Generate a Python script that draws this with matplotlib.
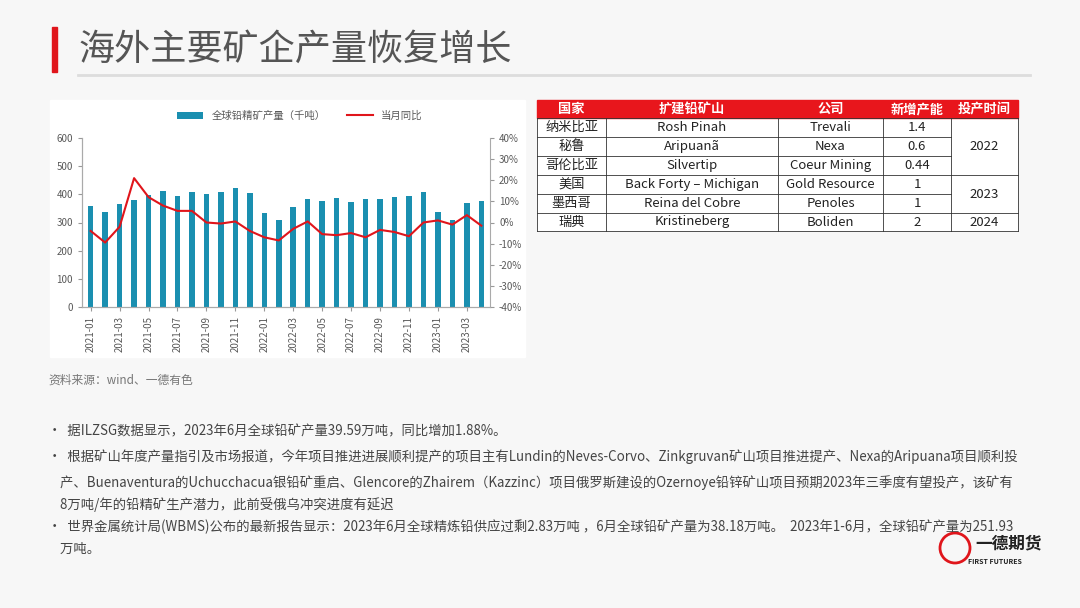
import matplotlib.pyplot as plt
from matplotlib.patches import Rectangle
import numpy as np

plt.rcParams['font.family'] = ['Noto Sans CJK SC', 'DejaVu Sans']

months = ['2021-01', '2021-02', '2021-03', '2021-04', '2021-05', '2021-06', '2021-07', '2021-08',
          '2021-09', '2021-10', '2021-11', '2021-12', '2022-01', '2022-02', '2022-03', '2022-04',
          '2022-05', '2022-06', '2022-07', '2022-08', '2022-09', '2022-10', '2022-11', '2022-12',
          '2023-01', '2023-02', '2023-03', '2023-04']
output = [358, 337, 364, 379, 397, 412, 394, 409, 400, 409, 422, 404,
          333, 310, 355, 382, 376, 388, 373, 382, 385, 391, 394, 407,
          337, 308, 370, 376]
yoy = [-4, -9.5, -2, 21, 12, 8, 5.5, 5.5, 0, -0.5, 0.5, -4,
       -7, -8.5, -3, 0.5, -5.5, -6, -5, -7, -3.5, -4.5, -6.5, 0,
       1, -1, 3.5, -1.5]

tbl_header = ['国家', '扩建铅矿山', '公司', '新增产能', '投产时间']
countries = ['纳米比亚', '秘鲁', '哥伦比亚', '美国', '墨西哥', '瑞典']
mines = ['Rosh Pinah', 'Aripuanã', 'Silvertip', 'Back Forty – Michigan', 'Reina del Cobre', 'Kristineberg']
companies = ['Trevali', 'Nexa', 'Coeur Mining', 'Gold Resource', 'Penoles', 'Boliden']
capacity = ['1.4', '0.6', '0.44', '1', '1', '2']
start_year = [('2022', 0, 3), ('2023', 3, 5), ('2024', 5, 6)]

W, H = 1080, 608
fig = plt.figure(figsize=(10.8, 6.08), dpi=100, facecolor='#f7f7f7')
bg = fig.add_axes([0, 0, 1, 1])
bg.set_xlim(0, W)
bg.set_ylim(H, 0)
bg.axis('off')

# title
bg.add_patch(Rectangle((52, 27), 5, 45, color='#e0151b'))
bg.text(78, 50, '海外主要矿企产量恢复增长', fontsize=26, color='#555555', va='center')
bg.plot([78, 1030], [75, 75], color='#dddddd', lw=2)

# chart panel
bg.add_patch(Rectangle((50, 100), 475, 257, color='white'))
bg.text(48, 380, '资料来源：wind、一德有色', fontsize=8.5, color='#777777', va='center')


def px(x0, y0, x1, y1):
    return [x0 / W, 1 - y1 / H, (x1 - x0) / W, (y1 - y0) / H]


ax = fig.add_axes(px(82, 138, 490, 307))
x = np.arange(len(months))
bars = ax.bar(x, output, width=0.38, color='#1a8fb0', label='全球铅精矿产量（千吨）')
ax.set_ylim(0, 600)
ax.set_xlim(-0.6, len(months) - 0.4)
ax.set_yticks(range(0, 601, 100))
ax.set_xticks(x[::2])
ax.set_xticklabels(months[::2], rotation=90, fontsize=7, color='#595959')
ax.tick_params(axis='y', labelsize=7, length=3)
ax.tick_params(axis='x', length=3, colors='#999999', labelcolor='#595959')
ax2 = ax.twinx()
line, = ax2.plot(x, yoy, color='#e0151b', lw=1.5, label='当月同比')
ax2.set_ylim(-40, 40)
ax2.set_yticks(range(-40, 41, 10))
ax2.set_yticklabels([f'{v}%' for v in range(-40, 41, 10)])
ax2.tick_params(axis='y', labelsize=7, colors='#999999', labelcolor='#595959', length=3)
for a in (ax, ax2):
    a.spines['top'].set_visible(False)
    for s in ('left', 'right', 'bottom'):
        a.spines[s].set_color('#aaaaaa')
ax.spines['right'].set_visible(False)
ax.tick_params(axis='y', colors='#999999', labelcolor='#595959')
fig.legend([bars, line], ['全球铅精矿产量（千吨）', '当月同比'], loc='center',
           bbox_to_anchor=(300 / W, 1 - 116 / H), ncol=2, frameon=False, fontsize=7.5,
           labelcolor='#595959', handlelength=2.5, columnspacing=2)

# table
cols = [537, 606, 778, 883, 951, 1018]
rows = [100, 118, 137, 156, 175, 194, 213, 231]
bg.add_patch(Rectangle((537, 100), 481, 131, facecolor='white', edgecolor='none'))
bg.add_patch(Rectangle((537, 100), 481, 18, color='#e8161c'))
for j, h in enumerate(tbl_header):
    bg.text((cols[j] + cols[j + 1]) / 2, 109, h, ha='center', va='center', color='white',
            fontsize=9.5, fontweight='bold')
for i in range(6):
    yc = (rows[i + 1] + rows[i + 2]) / 2
    for j, v in enumerate([countries[i], mines[i], companies[i], capacity[i]]):
        bg.text((cols[j] + cols[j + 1]) / 2, yc, v, ha='center', va='center', fontsize=9.5, color='#222222')
for yr, r0, r1 in start_year:
    yc = (rows[r0 + 1] + rows[r1 + 1]) / 2
    bg.text((cols[4] + cols[5]) / 2, yc, yr, ha='center', va='center', fontsize=9.5, color='#222222')
for c in cols:
    bg.plot([c, c], [118, 231], color='#333333', lw=0.6)
for i, r in enumerate(rows[1:]):
    bg.plot([537, 951], [r, r], color='#333333', lw=0.6)
for r in [118, 175, 213, 231]:
    bg.plot([951, 1018], [r, r], color='#333333', lw=0.6)

# bullet text
bullets = [
    (431, '•  据ILZSG数据显示，2023年6月全球铅矿产量39.59万吨，同比增加1.88%。'),
    (457, '•  根据矿山年度产量指引及市场报道，今年项目推进进展顺利提产的项目主有Lundin的Neves-Corvo、Zinkgruvan矿山项目推进提产、Nexa的Aripuana项目顺利投'),
    (483, '    产、Buenaventura的Uchucchacua银铅矿重启、Glencore的Zhairem（Kazzinc）项目俄罗斯建设的Ozernoye铅锌矿山项目预期2023年三季度有望投产，该矿有'),
    (505, '    8万吨/年的铅精矿生产潜力，此前受俄乌冲突进度有延迟'),
    (527, '•  世界金属统计局(WBMS)公布的最新报告显示：2023年6月全球精炼铅供应过剩2.83万吨 ，6月全球铅矿产量为38.18万吨。  2023年1-6月，全球铅矿产量为251.93'),
    (549, '    万吨。'),
]
for y, t in bullets:
    bg.text(48, y, t, fontsize=9.6, color='#444444', va='center')

# logo
bg.add_patch(plt.Circle((955, 548), 15, facecolor='none', edgecolor='#e0151b', lw=2))
bg.text(975, 543, '一德期货', fontsize=12, fontweight='bold', color='#222222', va='center')
bg.text(968, 561, 'FIRST FUTURES', fontsize=5, fontweight='bold', color='#222222', va='center')

fig.savefig('out.png', dpi=100, facecolor=fig.get_facecolor())
